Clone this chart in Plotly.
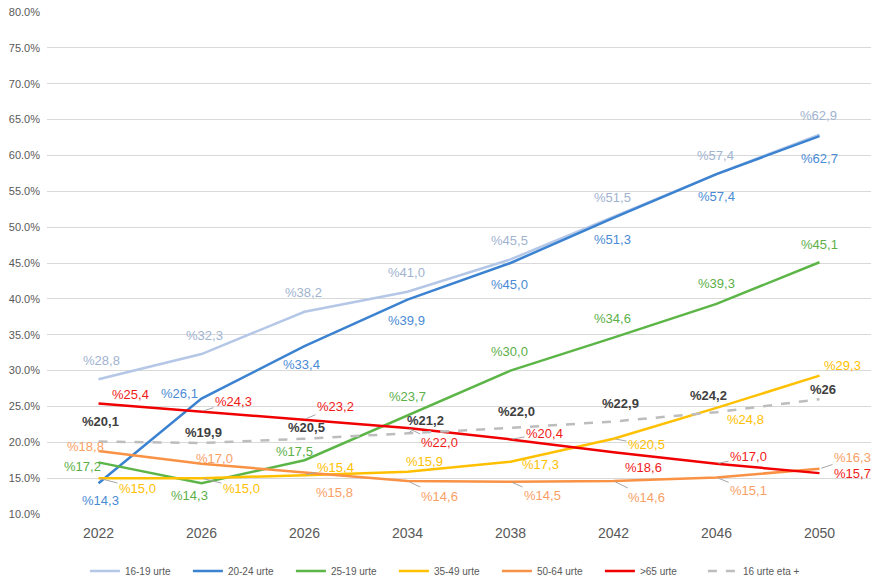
import plotly.graph_objects as go

years = ["2022", "2026", "2026", "2034", "2038", "2042", "2046", "2050"]

s_16_19 = [28.8, 32.3, 38.2, 41.0, 45.5, 51.5, 57.4, 62.9]
s_20_24 = [14.3, 26.1, 33.4, 39.9, 45.0, 51.3, 57.4, 62.7]
s_25_19 = [17.2, 14.3, 17.5, 23.7, 30.0, 34.6, 39.3, 45.1]
s_35_49 = [15.0, 15.0, 15.4, 15.9, 17.3, 20.5, 24.8, 29.3]
s_50_64 = [18.8, 17.0, 15.8, 14.6, 14.5, 14.6, 15.1, 16.3]
s_65 = [25.4, 24.3, 23.2, 22.0, 20.4, 18.6, 17.0, 15.7]
s_total = [20.1, 19.9, 20.5, 21.2, 22.0, 22.9, 24.2, 26.0]

names = ["16-19 urte", "20-24 urte", "25-19 urte", "35-49 urte", "50-64 urte", ">65 urte", "16 urte eta +"]
y_ticks = [10, 15, 20, 25, 30, 35, 40, 45, 50, 55, 60, 65, 70, 75, 80]

def lab(v):
    return "%" + f"{v:.1f}".replace(".", ",")

x = list(range(len(years)))

# style: (line color, label color, dash, bold)
styles = [
    ("#B4C7E7", "#9FB3CF", "solid", False),
    ("#3B82D0", "#4A8AD4", "solid", False),
    ("#5CB547", "#5DAF48", "solid", False),
    ("#FFC000", "#FFC000", "solid", False),
    ("#F99245", "#F9A066", "solid", False),
    ("#F00000", "#F01A1A", "solid", False),
    ("#BDBDBD", "#404040", "dash", True),
]
series = [s_16_19, s_20_24, s_25_19, s_35_49, s_50_64, s_65, s_total]

# label pixel offsets (dx, dy down-positive, leader line)
offsets = [
    [(3, -19, 0)] * 2 + [(-1, -19, 0)] * 6,
    [(2, 17, 0), (-22, -5, 0), (-3, 18, 0), (-1, 21, 0), (-1, 21, 0), (-1, 22, 0), (0, 22, 0), (0, 22, 0)],
    [(-16, 4, 0), (-12, 12, 0), (-10, -9, 0), (0, -19, 0), (-1, -19, 0), (-1, -19, 0), (0, -20, 0), (0, -18, 0)],
    [(39, 10, 1), (40, 10, 1), (31, -8, 1), (17, -10, 0), (30, 3, 0), (33, 6, 1), (29, 12, 0), (23, -10, 0)],
    [(-13, -4, 0), (13, -5, 0), (30, 20, 0), (32, 15, 1), (32, 14, 1), (33, 16, 1), (32, 13, 1), (33, -11, 1)],
    [(32, -9, 0), (32, -10, 1), (31, -13, 1), (32, 15, 1), (34, -6, 1), (30, 15, 0), (32, -7, 1), (33, 0, 0)],
    [(2, -20, 0), (2, -11, 0), (2, -11, 0), (18, -13, 1), (6, -16, 0), (7, -18, 0), (-8, -17, 0), (3, -10, 0)],
]

fig = go.Figure()
annotations = []
for name, vals, st, offs in zip(names, series, styles, offsets):
    lc, tc, dash, bold = st
    fig.add_trace(go.Scatter(
        x=x, y=vals, name=name, mode="lines",
        line=dict(color=lc, width=2.5, dash=dash),
    ))
    for i, v in enumerate(vals):
        dx, dy, lead = offs[i]
        txt = lab(v)
        if name == "16 urte eta +" and i == len(vals) - 1:
            txt = "%" + f"{v:.0f}"
        if bold:
            txt = "<b>" + txt + "</b>"
        annotations.append(dict(
            x=i, y=v, xref="x", yref="y", text=txt,
            showarrow=True, ax=dx, ay=dy, arrowhead=0, arrowwidth=1,
            arrowcolor="#A6A6A6" if lead else "rgba(0,0,0,0)",
            standoff=2,
            font=dict(family="Liberation Sans, Arial, sans-serif", size=13, color=tc),
        ))

fig.update_layout(
    width=879, height=578,
    margin=dict(l=47, r=8, t=12, b=64),
    paper_bgcolor="white", plot_bgcolor="white",
    showlegend=True,
    legend=dict(orientation="h", x=0.046, xanchor="left",
                yref="container", y=0.012, yanchor="middle",
                font=dict(family="Liberation Sans, Arial, sans-serif", size=10, color="#595959"),
                entrywidth=58, entrywidthmode="pixels", tracegroupgap=0),
    annotations=annotations,
    font=dict(family="Liberation Sans, Arial, sans-serif"),
)
fig.update_xaxes(
    tickmode="array", tickvals=x, ticktext=years, range=[-0.5, len(years) - 0.5],
    showgrid=False, zeroline=False, showline=False, ticks="", automargin=False,
    ticklabelstandoff=9,
    tickfont=dict(size=14, color="#595959"),
)
fig.update_yaxes(
    range=[10, 80], tickmode="array", tickvals=y_ticks,
    ticktext=[f"{t:.1f}%" for t in y_ticks], automargin=False,
    ticklabelstandoff=6,
    showgrid=True, gridcolor="#D9D9D9", gridwidth=1, zeroline=False, showline=False,
    tickfont=dict(size=11, color="#595959"), ticks="",
)

fig.write_html("out.html", config={"displayModeBar": False},
               post_script="document.body.style.margin='0';document.body.style.overflow='hidden';")
